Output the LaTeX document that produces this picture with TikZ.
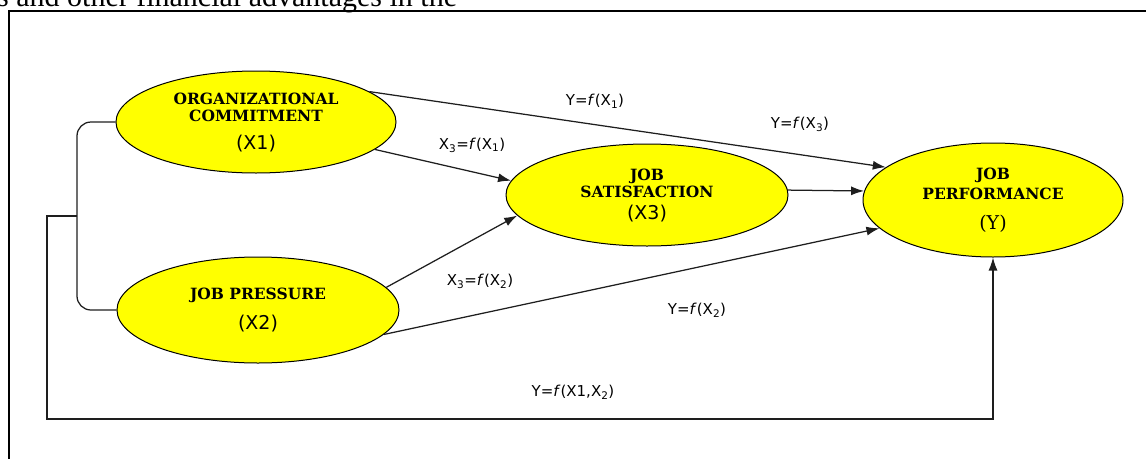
\documentclass[tikz,border=0pt]{standalone}
\usepackage{fontspec}
\setmainfont{DejaVu Serif}
\newfontfamily\labfont{DejaVu Sans}
\newfontfamily\ttlfont{DejaVu Serif}
\newfontfamily\paperfont{Liberation Serif}
\usetikzlibrary{shapes.geometric,arrows.meta}
\definecolor{ellyellow}{RGB}{255,255,0}
\definecolor{linegray}{RGB}{30,30,30}
\newcommand\xlab{\labfont\mdseries\fontsize{19}{22}\selectfont}
\newcommand\ylab{\ttlfont\mdseries\fontsize{19}{22}\selectfont}
\newcommand\ffn{\textit{f}}
\tikzset{
  ell/.style={ellipse, draw, line width=1pt, fill=ellyellow, inner sep=0pt, align=center,
    font=\ttlfont\bfseries\fontsize{15.5}{17}\selectfont},
  lab/.style={font=\labfont\fontsize{15}{17}\selectfont, inner sep=0pt},
  arr/.style={-{Latex[length=13pt,width=9pt]}, line width=1.25pt, draw=linegray},
  plain/.style={line width=1.25pt, draw=linegray}
}
\begin{document}
\begin{tikzpicture}[x=1pt,y=-1pt]
\useasboundingbox (0,0) rectangle (1146,458);
\clip (0,0) rectangle (1146,458);
\node[anchor=base west, font=\paperfont\fontsize{30}{36}\selectfont, inner sep=0pt] (hdr) at (-3,6) {s and other financial advantages in the};
\coordinate (fbl) at (9,470);
\coordinate (ftl) at (9,11);
\coordinate (ftr) at (1160,11);
\draw[line width=1.4pt] (fbl) -- (ftl) -- (ftr);

\node[ell, minimum width=280pt, minimum height=102pt] (oc) at (256,122) {ORGANIZATIONAL\\COMMITMENT\\[11pt]{\xlab (X1)}};
\node[ell, minimum width=282pt, minimum height=106pt] (jp) at (258,310) {JOB PRESSURE\\[11pt]{\xlab (X2)}};
\node[ell, minimum width=282pt, minimum height=102pt] (js) at (647,195) {JOB\\SATISFACTION\\[5pt]{\xlab (X3)}};
\node[ell, minimum width=260pt, minimum height=114pt] (perf) at (993,200) {JOB\\[3pt]PERFORMANCE\\[13pt]{\ylab (Y)}};

\draw[arr] (oc.15) -- (perf.163);
\draw[arr] (oc.-13) -- (js.174);
\draw[arr] (jp.10) -- (js.-171);
\draw[arr] (jp.-11) -- (perf.194);
\draw[arr] (js.2) -- (perf.176);

\coordinate (bx) at (77,216);
\coordinate (lx) at (47,419);
\draw[plain, rounded corners=14pt] (oc.west) -- (oc.west -| bx) -- (jp.west -| bx) -- (jp.west);
\draw[arr] (bx) -- (bx -| lx) -- (lx) -| (perf.south);

\node[lab] (l1) at (595,101) {Y=\ffn(X\textsubscript{1})};
\node[lab] (l2) at (800,124) {Y=\ffn(X\textsubscript{3})};
\node[lab] (l3) at (472,145) {X\textsubscript{3}=\ffn(X\textsubscript{1})};
\node[lab] (l4) at (480,281) {X\textsubscript{3}=\ffn(X\textsubscript{2})};
\node[lab] (l5) at (697,310) {Y=\ffn(X\textsubscript{2})};
\node[lab] (l6) at (573,392) {Y=\ffn(X1,X\textsubscript{2})};
\end{tikzpicture}
\end{document}
